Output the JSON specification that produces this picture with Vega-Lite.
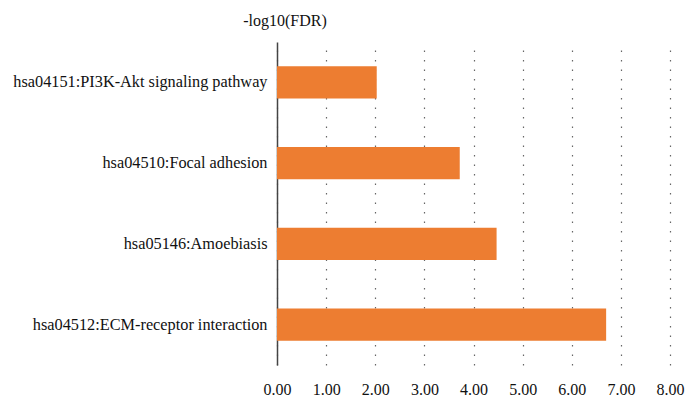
{
  "$schema": "https://vega.github.io/schema/vega-lite/v6.json",
  "autosize": "none",
  "width": 393,
  "height": 323,
  "padding": {"left": 277, "top": 42, "right": 23, "bottom": 40},
  "background": "white",
  "config": {"view": {"stroke": null}},
  "title": {
    "text": "-log10(FDR)",
    "anchor": "start",
    "frame": "group",
    "align": "center",
    "dx": 8,
    "baseline": "alphabetic",
    "offset": 0,
    "font": "Liberation Serif",
    "fontSize": 16,
    "fontWeight": "normal",
    "color": "#111"
  },
  "data": {
    "values": [
      {"pathway": "hsa04151:PI3K-Akt signaling pathway", "value": 2.03},
      {"pathway": "hsa04510:Focal adhesion", "value": 3.72},
      {"pathway": "hsa05146:Amoebiasis", "value": 4.47},
      {"pathway": "hsa04512:ECM-receptor interaction", "value": 6.70}
    ]
  },
  "mark": {"type": "bar", "color": "#ED7D31"},
  "encoding": {
    "y": {
      "field": "pathway",
      "type": "nominal",
      "sort": null,
      "scale": {"paddingInner": 0.6, "paddingOuter": 0.3},
      "axis": {
        "title": null,
        "ticks": false,
        "labelPadding": 10,
        "labelFont": "Liberation Serif",
        "labelFontSize": 16.3,
        "labelColor": "#111",
        "labelLimit": 400,
        "domainColor": "#444",
        "domainWidth": 1.5,
        "grid": false
      }
    },
    "x": {
      "field": "value",
      "type": "quantitative",
      "scale": {"domain": [0, 8], "nice": false},
      "axis": {
        "title": null,
        "values": [0, 1, 2, 3, 4, 5, 6, 7, 8],
        "format": ".2f",
        "domain": false,
        "ticks": false,
        "labelFlush": false,
        "labelOverlap": false,
        "labelPadding": 16,
        "labelFont": "Liberation Serif",
        "labelFontSize": 16,
        "labelColor": "#111",
        "grid": true,
        "gridColor": "#666",
        "gridDash": [1.5, 8],
        "gridWidth": 1.2
      }
    }
  }
}
